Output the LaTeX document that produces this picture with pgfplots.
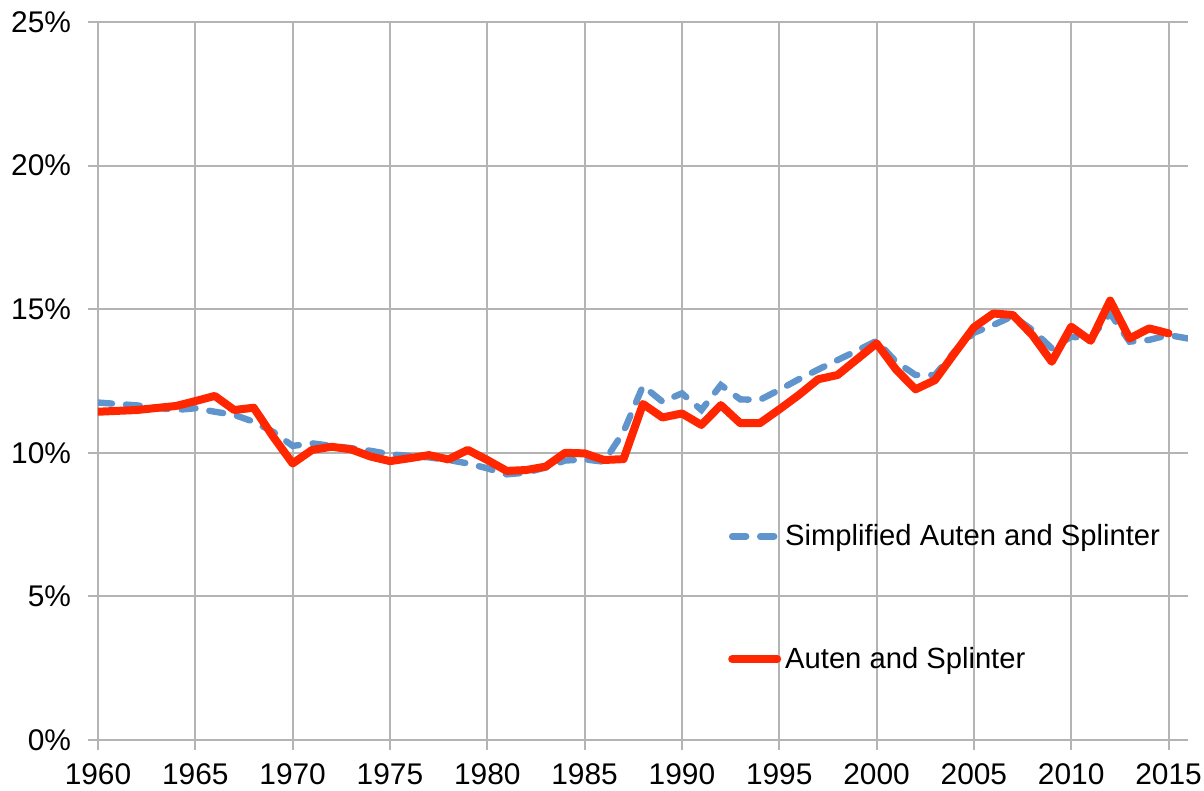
\documentclass[border=0pt]{standalone}
\usepackage{pgfplots}
\pgfplotsset{compat=1.18}
\usepackage{fontspec}
\setmainfont{Liberation Sans}
\definecolor{sblue}{RGB}{96,148,204}
\definecolor{ared}{RGB}{255,38,0}
\definecolor{gridgray}{RGB}{180,180,180}
\begin{document}
\begin{tikzpicture}
\useasboundingbox (-49bp,-25.5bp) rectangle (553bp,370bp);
\begin{axis}[
  at={(0,0)}, anchor=south west,
  scale only axis, width=545bp, height=359bp,
  xmin=1960, xmax=2016, ymin=0, ymax=25,
  axis x line=bottom, axis y line=left,
  axis line style={gridgray, line width=1bp, -},
  xtick={1960,1965,...,2015}, ytick={0,5,...,25},
  grid=major, major grid style={gridgray, line width=1bp},
  tick align=outside, major tick length=5bp,
  tick style={gridgray, line width=1bp},
  /pgf/number format/assume math mode=true,
  /pgf/number format/1000 sep={},
  yticklabel={\pgfmathprintnumber{\tick}\%},
  tick label style={font=\fontsize{15}{18}\selectfont, black},
  yticklabel style={xshift=-5bp},
  xticklabel style={yshift=-3.5bp},
  legend style={draw=none, fill=none, font=\fontsize{14.65}{17.5}\selectfont,
    at={(axis cs:1992.05,7.8)}, anchor=north west, row sep=45.3bp,
    cells={anchor=west}},
  legend image code/.code={\draw[#1] (0cm,0cm) -- (22.5bp,0cm);},
]
\addplot[sblue, line width=3.2bp, line cap=round, dash pattern=on 7bp off 7bp] coordinates {
(1960,11.75)(1961,11.70)(1962,11.65)(1963,11.57)(1964,11.49)(1965,11.55)(1966,11.43)(1967,11.32)(1968,11.08)(1969,10.73)
(1970,10.24)(1971,10.33)(1972,10.24)(1973,10.16)(1974,10.07)(1975,9.95)(1976,9.89)(1977,9.84)(1978,9.75)(1979,9.63)
(1980,9.46)(1981,9.25)(1982,9.31)(1983,9.49)(1984,9.73)(1985,9.77)(1986,9.69)(1987,10.73)(1988,12.33)(1989,11.78)
(1990,12.07)(1991,11.49)(1992,12.36)(1993,11.86)(1994,11.84)(1995,12.19)(1996,12.56)(1997,12.90)(1998,13.23)(1999,13.56)
(2000,13.90)(2001,13.17)(2002,12.71)(2003,12.71)(2004,13.52)(2005,14.18)(2006,14.45)(2007,14.76)(2008,14.28)(2009,13.64)
(2010,14.04)(2011,13.98)(2012,14.85)(2013,13.87)(2014,13.93)(2015,14.10)(2016,13.98)};
\addlegendentry[xshift=-4.5bp]{Simplified Auten and Splinter}
\addplot[ared, line width=4bp, line join=round, line cap=round] coordinates {
(1960,11.43)(1961,11.46)(1962,11.49)(1963,11.56)(1964,11.63)(1965,11.80)(1966,11.98)(1967,11.49)(1968,11.57)(1969,10.56)
(1970,9.63)(1971,10.10)(1972,10.21)(1973,10.12)(1974,9.87)(1975,9.71)(1976,9.81)(1977,9.92)(1978,9.77)(1979,10.10)
(1980,9.75)(1981,9.37)(1982,9.40)(1983,9.52)(1984,10.00)(1985,9.98)(1986,9.75)(1987,9.78)(1988,11.70)(1989,11.23)
(1990,11.37)(1991,10.97)(1992,11.66)(1993,11.03)(1994,11.03)(1995,11.51)(1996,12.01)(1997,12.56)(1998,12.71)(1999,13.26)
(2000,13.81)(2001,12.90)(2002,12.21)(2003,12.53)(2004,13.46)(2005,14.37)(2006,14.85)(2007,14.80)(2008,14.10)(2009,13.17)
(2010,14.39)(2011,13.90)(2012,15.30)(2013,13.98)(2014,14.33)(2015,14.16)};
\addlegendentry[xshift=-4.5bp]{Auten and Splinter}
\end{axis}
\end{tikzpicture}
\end{document}
